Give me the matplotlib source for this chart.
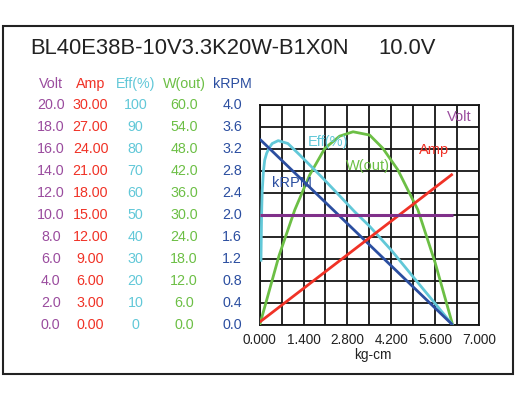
import matplotlib
matplotlib.use("Agg")
import matplotlib.pyplot as plt
from matplotlib.patches import Rectangle

plt.rcParams['font.family'] = ['Liberation Sans', 'DejaVu Sans']

W_PX, H_PX = 516, 399

title = "BL40E38B-10V3.3K20W-B1X0N"
title_v = "10.0V"

# table headers and tick labels
headers = ["Volt", "Amp", "Eff(%)", "W(out)", "kRPM"]
volt_ticks = ["20.0", "18.0", "16.0", "14.0", "12.0", "10.0", "8.0", "6.0", "4.0", "2.0", "0.0"]
amp_ticks = ["30.00", "27.00", "24.00", "21.00", "18.00", "15.00", "12.00", "9.00", "6.00", "3.00", "0.00"]
eff_ticks = ["100", "90", "80", "70", "60", "50", "40", "30", "20", "10", "0"]
w_ticks = ["60.0", "54.0", "48.0", "42.0", "36.0", "30.0", "24.0", "18.0", "12.0", "6.0", "0.0"]
rpm_ticks = ["4.0", "3.6", "3.2", "2.8", "2.4", "2.0", "1.6", "1.2", "0.8", "0.4", "0.0"]
x_ticks = [0.0, 1.4, 2.8, 4.2, 5.6, 7.0]
x_label = "kg-cm"

# series (torque kg-cm -> value)
volt_t = [0.0, 6.16]
volt_v = [10.0, 10.0]
amp_t = [0.0, 6.16]
amp_v = [0.4, 20.6]
rpm_t = [0.0, 6.16]
rpm_v = [3.38, 0.0]
eff_t = [0.04, 0.06, 0.08, 0.12, 0.16, 0.22, 0.3, 0.4, 0.59, 0.9, 1.3, 1.97, 2.5, 3.03, 3.5, 4.2, 4.89, 5.5, 6.16]
eff_v = [28.8, 50.0, 61.0, 70.0, 75.0, 78.0, 80.5, 82.5, 83.8, 82.5, 77.0, 67.4, 59.5, 51.5, 45.0, 34.0, 22.0, 11.5, 0.0]
w_t = [0.0, 0.62, 1.12, 1.6, 2.08, 2.55, 2.98, 3.51, 3.93, 4.41, 4.89, 5.05, 5.6, 6.16]
w_v = [0.0, 19.0, 31.4, 41.0, 48.2, 51.5, 52.7, 51.8, 48.2, 42.3, 34.1, 31.4, 17.0, 0.0]

c_volt = "#9a4c9e"
c_volt_line = "#80308a"
c_amp = "#f03226"
c_eff = "#62c8d8"
c_w = "#6cbf45"
c_rpm = "#2b4ea0"

fig = plt.figure(figsize=(W_PX / 100, H_PX / 100), dpi=100)

def fx(px):
    return px / W_PX

def fy(py):
    return 1 - py / H_PX

# outer frame
fig.patches.append(Rectangle((fx(3), fy(374)), fx(513) - fx(3), fy(26) - fy(374),
                             transform=fig.transFigure, fill=False, edgecolor="#222222", lw=1.5))

fig.text(fx(30), fy(48), title, fontsize=15.8, color="#222222", va="center", ha="left")
fig.text(fx(378), fy(48), title_v, fontsize=15.8, color="#222222", va="center", ha="left")

ax_l, ax_r, ax_t, ax_b = 259.7, 479.0, 105.0, 325.0
ax = fig.add_axes([fx(ax_l), fy(ax_b), fx(ax_r) - fx(ax_l), fy(ax_t) - fy(ax_b)])
ax.set_xlim(0, 7)
ax.set_ylim(0, 10)
ax.set_xticks([i * 0.7 for i in range(11)])
ax.set_yticks(range(11))
ax.grid(True, color="#151515", lw=1.3)
ax.tick_params(length=0, labelleft=False, labelbottom=False)
for s in ax.spines.values():
    s.set_color("#151515")
    s.set_linewidth(1.3)
ax.set_axisbelow(True)

# x tick labels & label
for t in x_ticks:
    xp = ax_l + (ax_r - ax_l) * t / 7.0
    fig.text(fx(xp), fy(340), f"{t:.3f}", fontsize=9.8, color="#222222", ha="center", va="center")
fig.text(fx((ax_l + ax_r) / 2 + 3), fy(355), x_label, fontsize=9.8, color="#222222", ha="center", va="center")

# series on their own scales
def series(t, v, top, color, lw=2.0):
    a = ax.twinx()
    a.set_ylim(0, top)
    a.set_axis_off()
    a.plot(t, v, color=color, lw=lw, solid_capstyle="butt")
    return a

series(w_t, w_v, 60, c_w)
series(eff_t, eff_v, 100, c_eff)
series(rpm_t, rpm_v, 4.0, c_rpm)
series(amp_t, amp_v, 30, c_amp)
series(volt_t, volt_v, 20, c_volt_line, lw=2.2)

# series labels
fs_lab = 10.5
fig.text(fx(459), fy(117), "Volt", fontsize=fs_lab, color=c_volt, ha="center", va="center")
fig.text(fx(434), fy(150), "Amp", fontsize=fs_lab, color=c_amp, ha="center", va="center")
fig.text(fx(328), fy(142), "Eff(%)", fontsize=fs_lab, color=c_eff, ha="center", va="center")
fig.text(fx(368), fy(166), "W(out)", fontsize=fs_lab, color=c_w, ha="center", va="center")
fig.text(fx(292), fy(183), "kRPM", fontsize=fs_lab, color=c_rpm, ha="center", va="center")

# left table
fs_tab = 10.3
cols = [(50.7, c_volt, volt_ticks), (90.5, c_amp, amp_ticks), (135.5, c_eff, eff_ticks),
        (184, c_w, w_ticks), (232, c_rpm, rpm_ticks)]
for (cx, col, ticks), h in zip(cols, headers):
    fig.text(fx(cx), fy(84), h, fontsize=fs_tab, color=col, ha="center", va="center")
    for i, lab in enumerate(ticks):
        fig.text(fx(cx), fy(105 + 22 * i), lab, fontsize=fs_tab, color=col, ha="center", va="center")

fig.savefig("out.png", dpi=100, facecolor="white")
